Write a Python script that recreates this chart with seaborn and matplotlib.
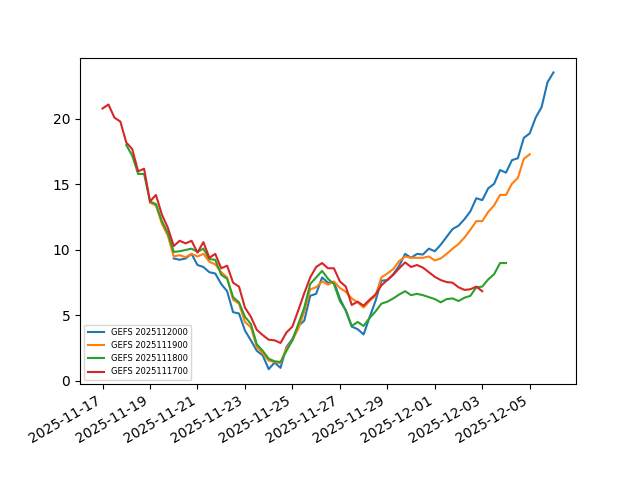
import pandas as pd
import matplotlib
matplotlib.use("Agg")
import matplotlib.pyplot as plt
import seaborn as sns

# GEFS runs, 6-hourly values for 16 days after each init
runs = ["GEFS 2025112000", "GEFS 2025111900", "GEFS 2025111800", "GEFS 2025111700"]
init_times = ["2025-11-20", "2025-11-19", "2025-11-18", "2025-11-17"]

run_20 = [9.35, 9.25, 9.35, 9.7, 8.85, 8.7, 8.3, 8.2, 7.4, 6.85,
          5.25, 5.15, 3.85, 3.1, 2.3, 1.95, 0.9, 1.4, 1.0, 2.6,
          3.2, 4.2, 4.6, 6.5, 6.65, 7.9, 7.5, 7.55, 6.3, 5.35,
          4.15, 3.95, 3.55, 4.85, 6.1, 7.65, 7.7, 8.15, 8.8, 9.7,
          9.4, 9.7, 9.65, 10.1, 9.9, 10.4, 11.0, 11.6, 11.85, 12.35,
          12.95, 13.95, 13.8, 14.7, 15.05, 16.1, 15.9, 16.85, 17.0, 18.55,
          18.9, 20.1, 20.9, 22.8, 23.55]
run_19 = [13.6, 13.4, 12.0, 11.1, 9.5, 9.6, 9.45, 9.7, 9.5, 9.7,
          9.1, 8.9, 8.3, 7.9, 6.2, 5.9, 4.5, 4.1, 2.6, 2.1,
          1.55, 1.45, 1.35, 2.5, 3.1, 4.0, 5.3, 7.0, 7.15, 7.6,
          7.35, 7.6, 7.1, 6.8, 6.3, 6.0, 5.6, 6.1, 6.5, 7.9,
          8.2, 8.55, 9.15, 9.5, 9.4, 9.4, 9.4, 9.5, 9.2, 9.35,
          9.7, 10.1, 10.45, 10.95, 11.55, 12.2, 12.2, 12.9, 13.4, 14.2,
          14.2, 15.05, 15.5, 16.95, 17.3]
run_18 = [18.0, 17.2, 15.8, 15.8, 13.7, 13.5, 12.2, 11.3, 9.85, 9.9,
          10.0, 10.1, 9.85, 10.1, 9.3, 9.25, 8.1, 7.8, 6.4, 6.0,
          4.9, 4.35, 2.8, 2.3, 1.7, 1.5, 1.45, 2.3, 3.1, 4.35,
          5.6, 7.4, 7.9, 8.4, 7.8, 7.4, 6.1, 5.4, 4.2, 4.5,
          4.2, 4.8, 5.3, 5.9, 6.05, 6.3, 6.6, 6.85, 6.55, 6.65,
          6.55, 6.4, 6.25, 6.0, 6.25, 6.3, 6.1, 6.35, 6.5, 7.15,
          7.2, 7.75, 8.15, 9.0, 9.0]
run_17 = [20.8, 21.1, 20.1, 19.8, 18.2, 17.7, 16.0, 16.2, 13.7, 14.2,
          12.7, 11.7, 10.3, 10.7, 10.5, 10.7, 9.8, 10.6, 9.4, 9.7,
          8.6, 8.8, 7.5, 7.2, 5.6, 4.9, 3.9, 3.5, 3.15, 3.1,
          2.9, 3.7, 4.15, 5.4, 6.7, 7.9, 8.7, 9.0, 8.6, 8.6,
          7.6, 7.2, 5.8, 6.05, 5.75, 6.2, 6.6, 7.3, 7.7, 8.1,
          8.6, 9.05, 8.7, 8.85, 8.65, 8.3, 7.95, 7.7, 7.55, 7.5,
          7.15, 6.95, 7.0, 7.2, 6.85]
series = [run_20, run_19, run_18, run_17]

fig, ax = plt.subplots(figsize=(6.4, 4.8), dpi=100)

for name, start, vals in zip(runs, init_times, series):
    times = pd.date_range(start, periods=len(vals), freq="6h")
    sns.lineplot(x=times, y=vals, label=name, ax=ax)

ax.set_xlabel("")
ax.set_ylabel("")
ax.legend(loc="lower left", fontsize=6)
fig.autofmt_xdate()

fig.savefig("out.png")
